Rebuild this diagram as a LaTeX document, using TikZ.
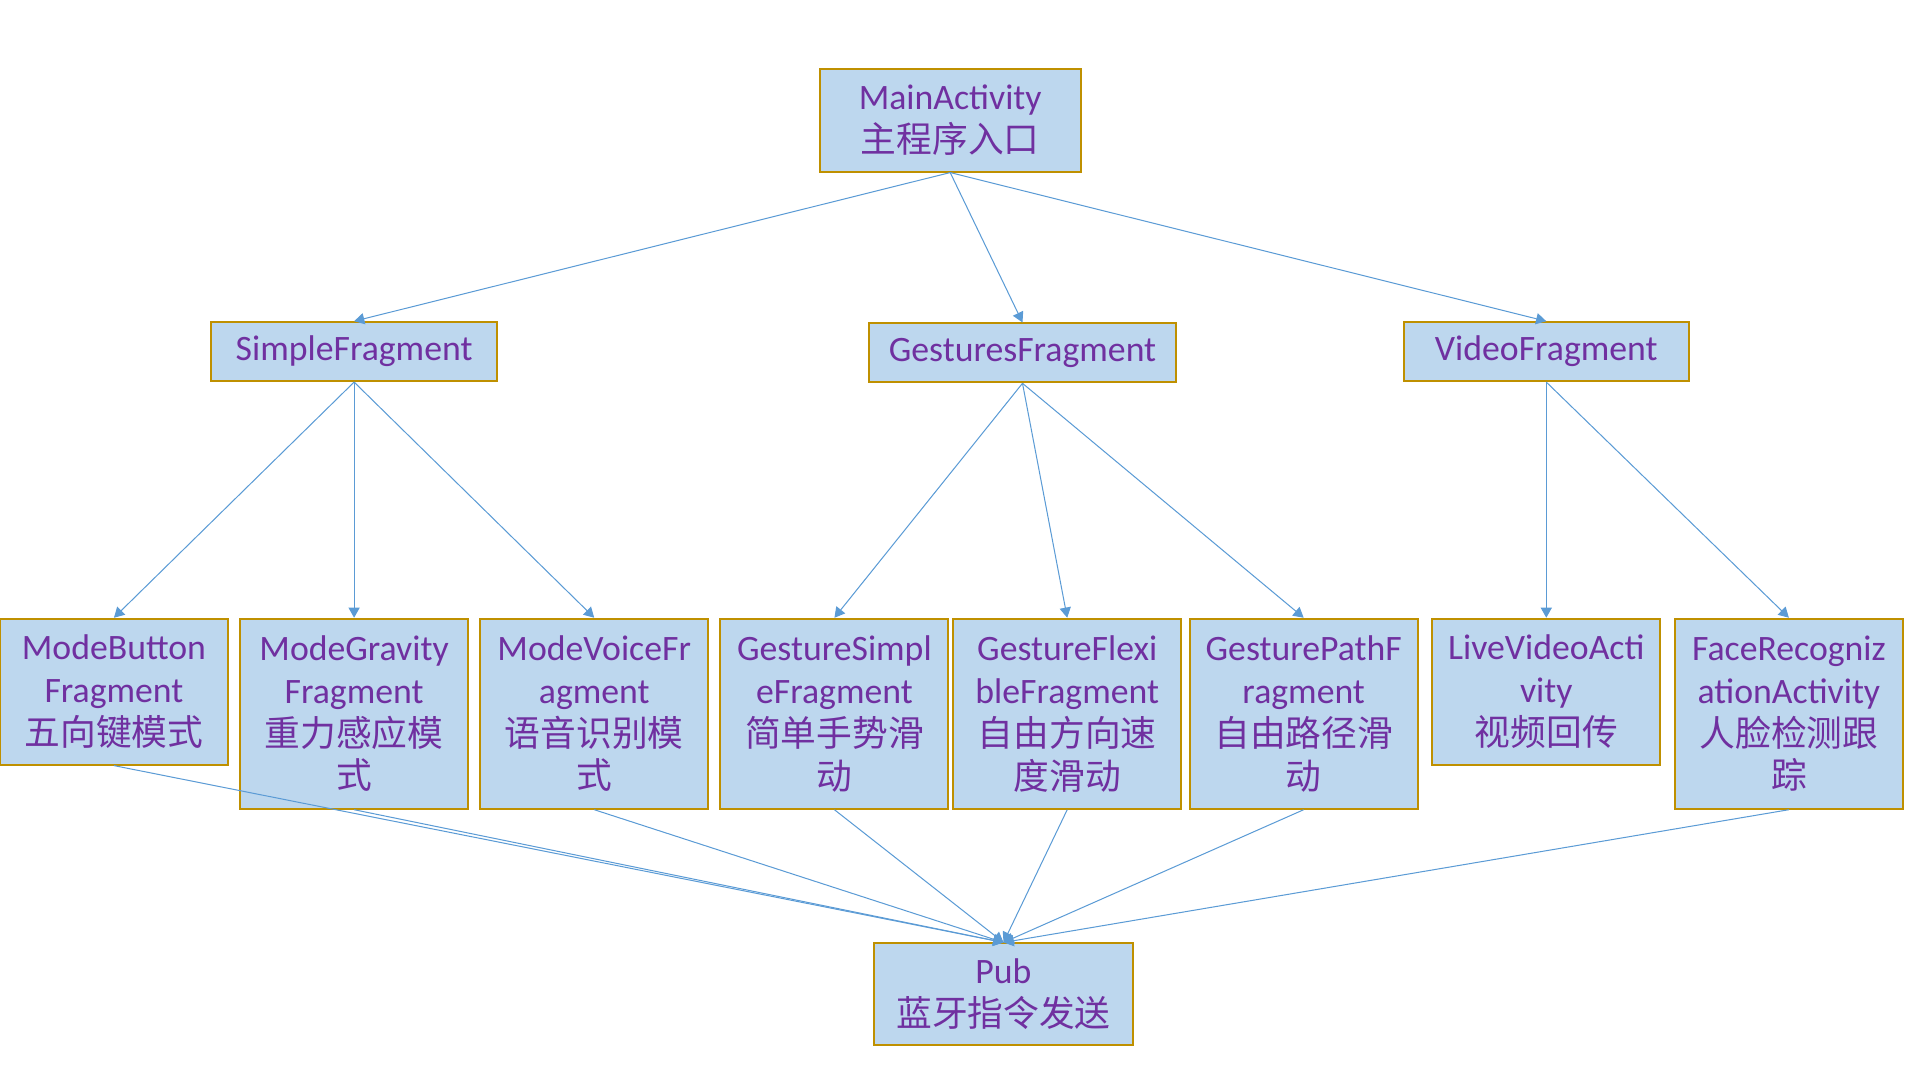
\documentclass[tikz,border=0pt]{standalone}
\usepackage{fontspec}
\setmainfont{Carlito}
\newfontfamily\cjk{Noto Sans CJK SC}
\usetikzlibrary{arrows.meta}
\definecolor{boxfill}{HTML}{BDD7EE}
\definecolor{boxline}{HTML}{BF9000}
\definecolor{txt}{HTML}{7030A0}
\definecolor{conn}{HTML}{5B9BD5}
\begin{document}
\begin{tikzpicture}[x=0.6pt,y=-0.6pt,
  box/.style={draw=boxline, fill=boxfill, line width=1pt, text=txt,
    align=center, inner sep=0pt, font=\fontsize{17.5}{21}\selectfont},
  topbox/.style={box, minimum width=#1, minimum height=28.8pt},
  tallbox/.style={box, minimum width=111.6pt, minimum height=93pt},
  shortbox/.style={box, minimum width=111.6pt, minimum height=71.4pt},
  conn/.style={draw=conn, line width=0.5pt, -{Triangle[length=5pt,width=5.5pt]}}]
\useasboundingbox (0,0) rectangle (1567,881.4);
\node[box, minimum width=127.8pt, minimum height=50.4pt] (main) at (775.5,98) {MainActivity\\{\cjk 主程序入口}};
\node[topbox=140.4pt] (simple) at (289,287) {SimpleFragment};
\node[topbox=150.6pt] (gest) at (834.5,288) {GesturesFragment};
\node[topbox=139.8pt] (video) at (1262,287) {VideoFragment};
\node[shortbox] (mb) at (93,564.5) {ModeButton\\Fragment\\{\cjk 五向键模式}};
\node[tallbox] (mg) at (289,582.5) {ModeGravity\\Fragment\\{\cjk 重力感应模}\\{\cjk 式}};
\node[tallbox] (mv) at (485,582.5) {ModeVoiceFr\\agment\\{\cjk 语音识别模}\\{\cjk 式}};
\node[tallbox] (gs) at (681,582.5) {GestureSimpl\\eFragment\\{\cjk 简单手势滑}\\{\cjk 动}};
\node[tallbox] (gf) at (871,582.5) {GestureFlexi\\bleFragment\\{\cjk 自由方向速}\\{\cjk 度滑动}};
\node[tallbox] (gp) at (1064,582.5) {GesturePathF\\ragment\\{\cjk 自由路径滑}\\{\cjk 动}};
\node[shortbox] (lv) at (1262,564.5) {LiveVideoActi\\vity\\{\cjk 视频回传}};
\node[tallbox] (fr) at (1460,582.5) {FaceRecogniz\\ationActivity\\{\cjk 人脸检测跟}\\{\cjk 踪}};
\node[box, minimum width=127.2pt, minimum height=49.8pt] (pub) at (819,811.5) {Pub\\{\cjk 蓝牙指令发送}};
\foreach \c in {simple,gest,video} \draw[conn] (main.south) -- (\c.north);
\foreach \c in {mb,mg,mv} \draw[conn] (simple.south) -- (\c.north);
\foreach \c in {gs,gf,gp} \draw[conn] (gest.south) -- (\c.north);
\foreach \c in {lv,fr} \draw[conn] (video.south) -- (\c.north);
\foreach \c in {mb,mg,mv,gs,gf,gp,fr} \draw[conn] (\c.south) -- (pub.north);
\end{tikzpicture}
\end{document}
